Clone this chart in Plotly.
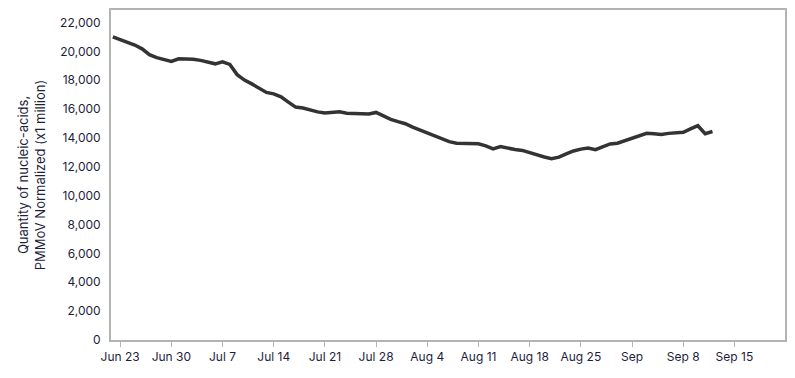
import pandas as pd
import plotly.graph_objects as go

start_date = "2024-06-22"
values = [
    21000, 20820, 20630, 20440, 20180, 19770, 19570, 19430, 19310, 19490,
    19475, 19460, 19380, 19270, 19140, 19280, 19100, 18390, 18010, 17750,
    17430, 17160, 17060, 16850, 16490, 16140, 16080, 15930, 15810, 15730,
    15790, 15810, 15720, 15700, 15680, 15660, 15770, 15500, 15290, 15130,
    14990, 14750, 14550, 14370, 14190, 14000, 13750, 13640, 13640, 13640,
    13600, 13450, 13250, 13400, 13270, 13200, 13140, 12980, 12820, 12680,
    12570, 12670, 12900, 13100, 13230, 13310, 13190, 13380, 13590, 13640,
    13820, 13960, 14200, 14330, 14300, 14250, 14320, 14380, 14400, 14630,
    14850, 14300, 14450,
]
dates = pd.date_range(start_date, periods=len(values), freq="D")

tick_dates = ["2024-06-23", "2024-06-30", "2024-07-07", "2024-07-14", "2024-07-21",
              "2024-07-28", "2024-08-04", "2024-08-11", "2024-08-18", "2024-08-25",
              "2024-09-01", "2024-09-08", "2024-09-15"]
tick_labels = ["Jun 23", "Jun 30", "Jul 7", "Jul 14", "Jul 21", "Jul 28", "Aug 4",
               "Aug 11", "Aug 18", "Aug 25", "Sep", "Sep 8", "Sep 15"]
y_ticks = list(range(0, 22001, 2000))
y_title = "Quantity of nucleic-acids,<br>PMMoV Normalized (x1 million)"

text_color = "#1e1e3c"
frame_color = "#b3b3b3"

fig = go.Figure()
fig.add_trace(go.Scatter(
    x=dates, y=values, mode="lines",
    line=dict(color="#333333", width=3.5),
    hoverinfo="skip", showlegend=False,
))

# the page body has an 8px default margin, so the figure is sized to fit the window
fig.update_layout(
    width=787, height=370,
    margin=dict(l=103, r=10, t=2, b=38),
    paper_bgcolor="white", plot_bgcolor="white",
    font=dict(family="Inter, Lato, sans-serif", size=12, color=text_color),
    xaxis=dict(
        range=["2024-06-21 18:00", "2024-09-21 22:00"],
        tickvals=tick_dates, ticktext=tick_labels,
        showgrid=False, zeroline=False, automargin=False,
        showline=True, linecolor=frame_color, linewidth=2, mirror=True,
        ticks="outside", ticklen=5, tickcolor=frame_color, tickwidth=1,
        tickfont=dict(size=12, color=text_color),
    ),
    yaxis=dict(
        range=[0, 22870],
        tickvals=y_ticks, tickformat=",d",
        showgrid=False, zeroline=False, automargin=False,
        showline=True, linecolor=frame_color, linewidth=2, mirror=True,
        ticks="", ticklabelstandoff=6,
        tickfont=dict(size=12, color=text_color),
        title=dict(text=y_title, font=dict(size=13, color=text_color), standoff=12),
    ),
)

fig.write_html("out.html")
